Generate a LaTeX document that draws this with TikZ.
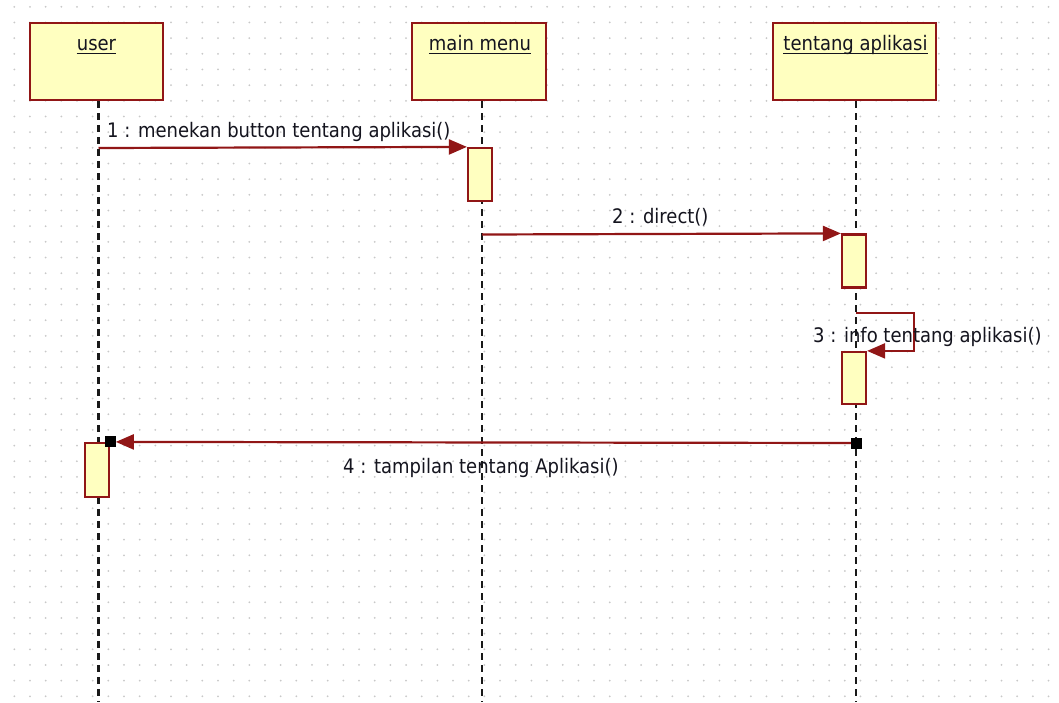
\documentclass[tikz,border=0pt]{standalone}
\usepackage{fontspec}
\setmainfont{DejaVu Sans Condensed}
\usetikzlibrary{arrows.meta}
\definecolor{boxfill}{RGB}{255,255,192}
\definecolor{umlred}{RGB}{145,22,22}
\definecolor{griddot}{RGB}{200,200,200}
\definecolor{lifeblack}{RGB}{25,25,25}
\definecolor{textc}{RGB}{20,20,30}

\begin{document}
\begin{tikzpicture}[x=1pt,y=-1pt,
  every node/.style={font=\fontsize{20}{23}\selectfont, text=textc},
  objbox/.style={draw=umlred, fill=boxfill, line width=2.4pt, minimum height=77pt, inner sep=0pt},
  objlabel/.style={anchor=base, inner sep=0pt},
  uline/.style={draw=textc, line width=1.8pt},
  actbox/.style={draw=umlred, fill=boxfill, line width=2.2pt, minimum width=24pt, inner sep=0pt},
  lifeline/.style={draw=lifeblack, line width=2.6pt, dash pattern=on 7pt off 5pt},
  msg/.style={draw=umlred, line width=2.2pt, -{Triangle[length=18pt,width=15pt]}},
  msglabel/.style={anchor=base west, inner sep=0pt},
  endsq/.style={fill=black, minimum size=11pt, inner sep=0pt},
]
\useasboundingbox (0,0) rectangle (1059,702);
\fill[white] (0,0) rectangle (1059,702);

% dotted background grid
\foreach \i in {0,...,67} {
  \foreach \j in {0,...,44} {
    \fill[griddot] ({14.3+15.67*\i},{6.8+15.67*\j}) circle (1pt);
  }
}

% objects
\node[objbox, minimum width=133pt] (user) at (96.5,61.5) {};
\node[objbox, minimum width=134pt] (main) at (479,61.5) {};
\node[objbox, minimum width=163pt] (tent) at (854.5,61.5) {};

% lifelines
\coordinate (uBot) at (98.5,702);
\coordinate (mBot) at (482,702);
\coordinate (tBot) at (856,702);
\draw[lifeline] (uBot |- user.south) -- (uBot);
\draw[lifeline] (mBot |- main.south) -- (mBot);
\draw[lifeline] (tBot |- tent.south) -- (tBot);

% activations
\node[actbox, minimum height=53pt] (mainact) at (480,174.5) {};
\node[actbox, minimum height=53pt] (tentact1) at (854,261) {};
\node[actbox, minimum height=52pt] (tentact2) at (854,378) {};
\node[actbox, minimum height=54pt] (useract) at (97,470) {};

% messages
\coordinate (m1s) at (98.5,148);
\draw[msg] (m1s) -- (mainact.north west);

\coordinate (m2s) at (482,234.5);
\draw[msg] (m2s) -- (tentact1.north west);

\coordinate (m3s) at (856,313);
\coordinate (m3c) at (914,313);
\draw[msg] (m3s) -- (m3c) |- (tentact2.north east);

\node[endsq] (sqR) at (856,443) {};
\node[endsq] (sqL) at (useract.north east) {};
\draw[msg] (sqR.center) -- (sqL.east);
\node[endsq] at (sqR) {};

% object labels
\node[objlabel] (userlbl) at (96.5,50) {user};
\node[objlabel] (mainlbl) at (480,50) {main menu};
\node[objlabel] (tentlbl) at (855.5,50) {tentang aplikasi};
\foreach \n in {userlbl,mainlbl,tentlbl} {
  \draw[uline] ([yshift=-3.5pt]\n.base west) -- ([yshift=-3.5pt]\n.base east);
}

% message labels
\node[msglabel] (l1) at (107,137) {1 : menekan button tentang aplikasi()};
\node[msglabel] (l2) at (612,223) {2 : direct()};
\node[msglabel] (l3) at (813,342) {3 : info tentang aplikasi()};
\node[msglabel] (l4) at (343,473) {4 : tampilan tentang Aplikasi()};
\end{tikzpicture}
\end{document}
